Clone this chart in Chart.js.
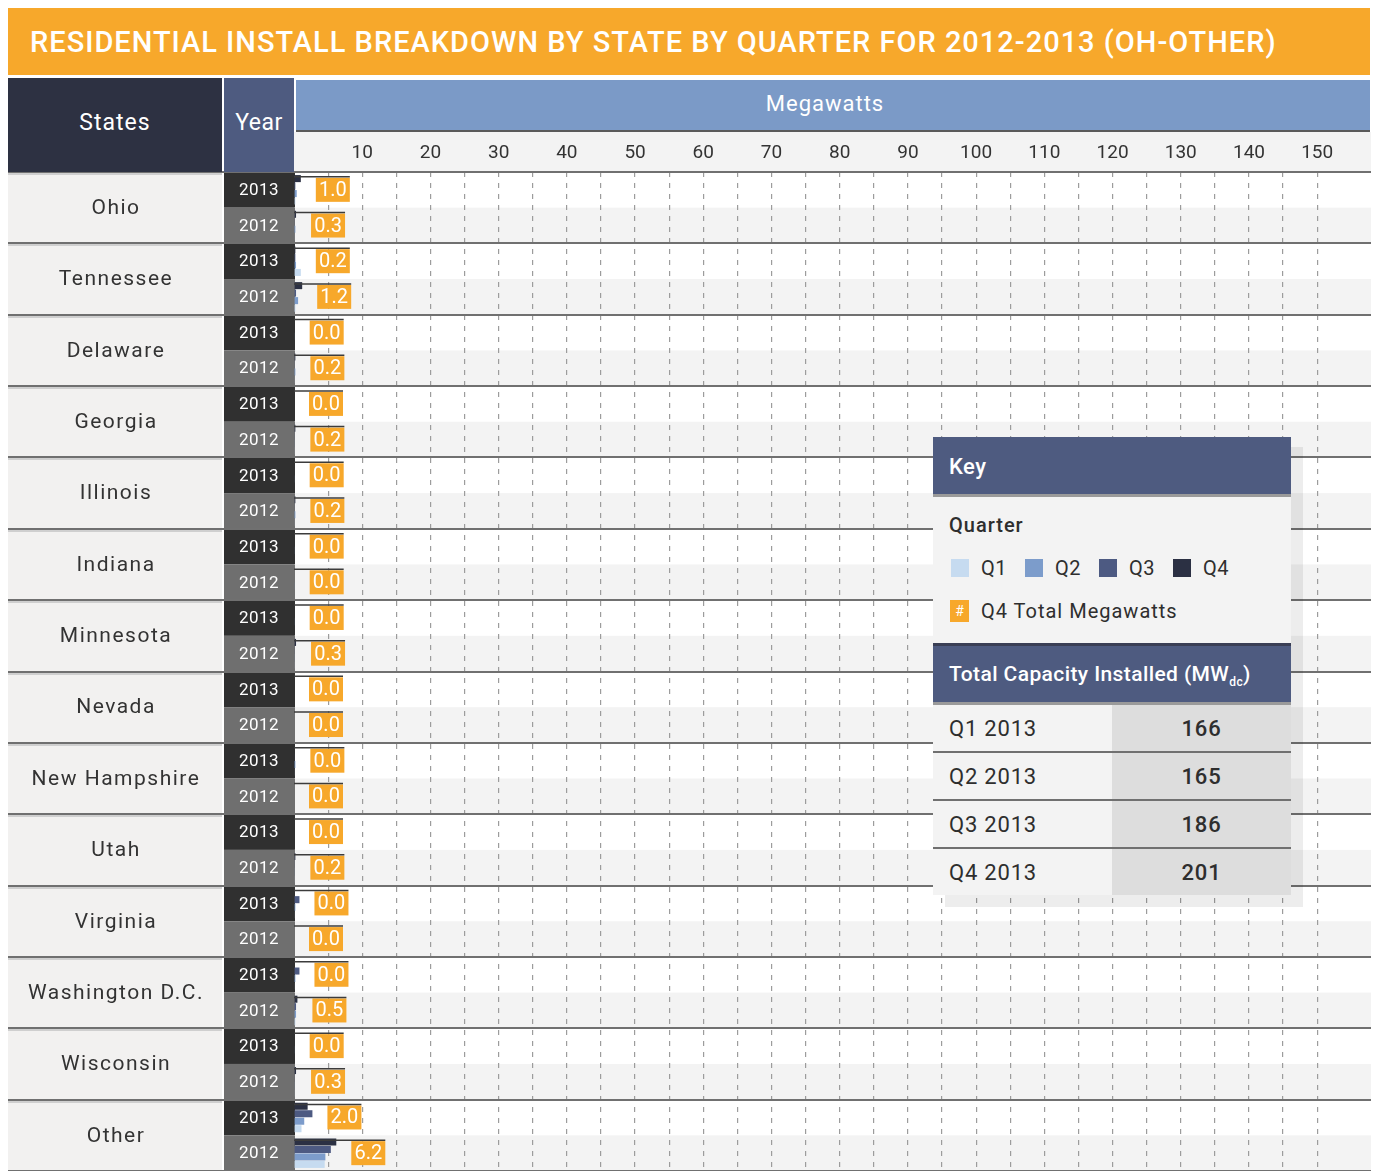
<!DOCTYPE html>
<html>
<head>
<meta charset="utf-8">
<script src="https://cdn.jsdelivr.net/npm/chart.js@4.4.1/dist/chart.umd.min.js"></script>
<style>
    body { margin: 0; background: #fff; font-family: Roboto, "Open Sans", sans-serif; }
    #wrap { position: relative; width: 1374px; height: 1171px; overflow: hidden; }
    #chart-box { position: absolute; left: 0; top: 0; width: 1374px; height: 1171px; }
    .abs { position: absolute; box-sizing: border-box; color: #fff; }
    .title { left: 8px; top: 8px; width: 1362px; height: 67px; background: #f7a82b;
             font-size: 29px; font-weight: 500; line-height: 69px; padding-left: 22px; letter-spacing: 1px; }
    .hdr-states { left: 8px; top: 78px; width: 214px; height: 94px; background: #2d3142;
                  font-size: 23px; text-align: center; line-height: 90px; letter-spacing: 1px; }
    .hdr-year { left: 224px; top: 78px; width: 70px; height: 94px; background: #4e5b80;
                font-size: 23px; text-align: center; line-height: 90px; letter-spacing: 0.5px; }
    .hdr-mw { left: 296px; top: 80px; width: 1074px; height: 50px; background: #7b9ac7;
              font-size: 22px; text-align: center; line-height: 48px; padding-right: 16px; letter-spacing: 1px; }

    /* Key panel */
    .key-shadow { left: 945px; top: 447px; width: 358px; height: 460px; background: rgba(0,0,0,0.07); }
    .key { left: 933px; top: 437px; width: 358px; height: 458px; background: #f3f3f3; color: #2e2e2e; }
    .key .head { background: #4e5b80; color: #fff; font-weight: 500; font-size: 22px; letter-spacing: 0.5px;
                 height: 60px; line-height: 60px; padding-left: 16px; border-bottom: 3px solid #9a9a9a; box-sizing: border-box; }
    .key .sub { font-size: 20px; font-weight: 500; padding: 16px 0 0 16px; height: 26px; letter-spacing: 1px; }
    .key .legend { display: flex; padding: 16px 0 0 18px; height: 26px; align-items: center; font-size: 20px; letter-spacing: 0.5px; }
    .key .legend span.sw { width: 18px; height: 18px; display: inline-block; margin-right: 12px; }
    .key .legend .item { display: flex; align-items: center; margin-right: 18px; }
    .key .orange { display: flex; align-items: center; padding: 18px 0 0 17px; font-size: 20px; letter-spacing: 1px; }
    .key .orange span.sw { width: 19px; height: 22px; background: #f7a82b; color: #fff; font-size: 14px;
                           text-align: center; line-height: 22px; margin-right: 12px; letter-spacing: 0; }
    .key .head2 { position: absolute; top: 206px; left: 0; width: 358px; height: 62px; background: #4e5b80;
                  color: #fff; font-size: 21px; font-weight: 500; line-height: 56px; padding-left: 16px; letter-spacing: 0.4px;
                  border-top: 3px solid #3a3f55; border-bottom: 3px solid #9a9a9a; box-sizing: border-box; }
    .key sub { font-size: 12px; }
    .key table { position: absolute; top: 268px; left: 0; width: 358px; border-collapse: collapse; font-size: 22px; letter-spacing: 0.8px; }
    .key td { height: 46px; padding: 0; }
    .key td.q { padding-left: 16px; width: 163px; background: #f3f3f3; }
    .key td.v { text-align: center; background: #dddddd; font-weight: 500; }
    .key tr + tr td { border-top: 2px solid #707070; }
</style>
</head>
<body>
<div id="wrap">
    <div id="chart-box"><canvas id="installChart"></canvas></div>
    <div class="abs title">RESIDENTIAL INSTALL BREAKDOWN BY STATE BY QUARTER FOR 2012-2013 (OH-OTHER)</div>
    <div class="abs hdr-states">States</div>
    <div class="abs hdr-year">Year</div>
    <div class="abs hdr-mw">Megawatts</div>
    <div class="abs key-shadow"></div>
    <div class="abs key" id="key">
        <div class="head">Key</div>
        <div class="sub">Quarter</div>
        <div class="legend" id="key-legend"></div>
        <div class="orange"><span class="sw">#</span>Q4 Total Megawatts</div>
        <div class="head2">Total Capacity Installed (MW<sub>dc</sub>)</div>
        <table id="capacity-table"></table>
    </div>
</div>

<script>
// ---- data (MW) ----
const states = ['Ohio', 'Tennessee', 'Delaware', 'Georgia', 'Illinois', 'Indiana', 'Minnesota',
    'Nevada', 'New Hampshire', 'Utah', 'Virginia', 'Washington D.C.', 'Wisconsin', 'Other'];
const years = ['2013', '2012'];

const q1_2013 = [0.2, 1.0, 0.0, 0.0, 0.0, 0.0, 0.0, 0.0, 0.1, 0.0, 0.1, 0.1, 0.0, 1.1];
const q2_2013 = [0.4, 0.3, 0.1, 0.0, 0.1, 0.1, 0.1, 0.0, 0.2, 0.0, 0.2, 0.2, 0.1, 1.5];
const q3_2013 = [0.2, 0.2, 0.0, 0.0, 0.0, 0.0, 0.0, 0.0, 0.1, 0.0, 0.8, 0.8, 0.0, 2.7];
const q4_2013 = [1.0, 0.2, 0.0, 0.0, 0.0, 0.0, 0.0, 0.0, 0.0, 0.0, 0.0, 0.0, 0.0, 2.0];

const q1_2012 = [0.1, 0.2, 0.1, 0.1, 0.1, 0.0, 0.1, 0.0, 0.0, 0.1, 0.0, 0.2, 0.1, 4.5];
const q2_2012 = [0.2, 0.6, 0.2, 0.1, 0.2, 0.1, 0.1, 0.0, 0.0, 0.1, 0.0, 0.3, 0.1, 4.6];
const q3_2012 = [0.1, 0.3, 0.1, 0.1, 0.1, 0.0, 0.1, 0.0, 0.0, 0.1, 0.0, 0.3, 0.1, 5.4];
const q4_2012 = [0.3, 1.2, 0.2, 0.2, 0.2, 0.0, 0.3, 0.0, 0.0, 0.2, 0.0, 0.5, 0.3, 6.2];

const quarterLabels = ['Q1', 'Q2', 'Q3', 'Q4'];
const quarterColors = ['#c6dbf0', '#7c9ccb', '#4d5a82', '#2b3043'];

const capacityQuarters = ['Q1 2013', 'Q2 2013', 'Q3 2013', 'Q4 2013'];
const capacityTotals = [166, 165, 186, 201];

const axisMax = 157.3;

// rows go state by state: 2013 then 2012
const rowLabels = [];
states.forEach(s => years.forEach(y => rowLabels.push(s + ' ' + y)));

function interleave(a2013, a2012) {
    const out = [];
    a2013.forEach((v, i) => { out.push(v); out.push(a2012[i]); });
    return out;
}
const quarterRows = [
    interleave(q1_2013, q1_2012),
    interleave(q2_2013, q2_2012),
    interleave(q3_2013, q3_2012),
    interleave(q4_2013, q4_2012)
];

// ---- key panel ----
document.getElementById('key-legend').innerHTML = quarterLabels.map((q, i) =>
    `<div class="item"><span class="sw" style="background:${quarterColors[i]}"></span>${q}</div>`).join('');
document.getElementById('capacity-table').innerHTML = capacityQuarters.map((q, i) =>
    `<tr><td class="q">${q}</td><td class="v">${capacityTotals[i]}</td></tr>`).join('');

// ---- table-style background, side columns and value tags ----
const tableLayout = {
    id: 'tableLayout',
    beforeDraw(chart) {
        const { ctx, chartArea: a, scales: { y } } = chart;
        const h = (a.bottom - a.top) / rowLabels.length;

        // tick label band
        ctx.fillStyle = '#f3f3f3';
        ctx.fillRect(a.left, 132, a.right - a.left + 4, a.top - 132);
        ctx.fillStyle = '#5a5a5a';
        ctx.fillRect(296, 130, 1074, 2);

        rowLabels.forEach((r, i) => {
            const top = y.getPixelForValue(i) - h / 2;
            ctx.fillStyle = i % 2 === 0 ? '#ffffff' : '#f3f3f3';
            ctx.fillRect(a.left, top, a.right - a.left + 4, h);

            ctx.fillStyle = i % 2 === 0 ? '#303030' : '#6f6f6f';
            ctx.fillRect(224, top, 71, h);
            ctx.fillStyle = '#ffffff';
            ctx.font = '17px Roboto';
            ctx.letterSpacing = '0.5px';
            ctx.textAlign = 'center';
            ctx.textBaseline = 'middle';
            ctx.fillText(years[i % 2], 259, top + h / 2 + 1);
        });

        states.forEach((s, k) => {
            const top = y.getPixelForValue(2 * k) - h / 2;
            ctx.fillStyle = '#f2f1f0';
            ctx.fillRect(8, top, 214, 2 * h);
            ctx.fillStyle = '#333333';
            ctx.font = '21px Roboto';
            ctx.letterSpacing = '1.5px';
            ctx.textAlign = 'center';
            ctx.textBaseline = 'middle';
            ctx.fillText(s, 116, top + h + 1);
        });
        ctx.letterSpacing = '0px';
    },
    afterDatasetsDraw(chart) {
        const { ctx, chartArea: a, scales: { x, y } } = chart;
        const h = (a.bottom - a.top) / rowLabels.length;

        // value tags (Q4 value), placed after the longest bar of the row
        rowLabels.forEach((r, i) => {
            const longest = Math.max(...quarterRows.map(q => q[i]));
            const left = x.getPixelForValue(longest) + 15;
            const yc = y.getPixelForValue(i);
            const tagTop = yc - 12;
            ctx.fillStyle = '#f7a82b';
            ctx.fillRect(left, tagTop, 34, 24);
            ctx.strokeStyle = '#3c3c3c';
            ctx.lineWidth = 1.5;
            ctx.beginPath();
            ctx.moveTo(a.left, tagTop - 1);
            ctx.lineTo(left + 34, tagTop - 1);
            ctx.stroke();
            ctx.fillStyle = '#ffffff';
            ctx.font = '20px Roboto';
            ctx.textAlign = 'center';
            ctx.textBaseline = 'middle';
            ctx.fillText(quarterRows[3][i].toFixed(1), left + 17, yc + 1);
        });

        // state separators
        for (let k = 0; k <= states.length; k++) {
            const yy = Math.round(a.top + 2 * k * h);
            ctx.fillStyle = '#707070';
            ctx.fillRect(8, yy - 1, a.right - 8 + 4, 2);
            ctx.fillStyle = '#cfcfcf';
            ctx.fillRect(8, yy + 1, 214, 2);
        }
    }
};

new Chart(document.getElementById('installChart'), {
    type: 'bar',
    data: {
        labels: rowLabels,
        // top-to-bottom inside each row: Q4, Q3, Q2, Q1
        datasets: [3, 2, 1, 0].map(q => ({
            label: quarterLabels[q],
            data: quarterRows[q],
            backgroundColor: quarterColors[q],
            borderWidth: 0,
            categoryPercentage: 0.84,
            barPercentage: 0.94
        }))
    },
    options: {
        indexAxis: 'y',
        responsive: true,
        maintainAspectRatio: false,
        animation: false,
        layout: { padding: { left: 294, right: 4, top: 133, bottom: 0 } },
        plugins: { legend: { display: false }, tooltip: { enabled: false } },
        scales: {
            x: {
                position: 'top',
                min: 0,
                max: axisMax,
                afterFit: axis => { axis.height = 39; },
                grid: {
                    drawTicks: false,
                    color: c => (c.tick && c.tick.value > 0 && c.tick.value % 5 === 0) ? '#9c9c9c' : 'transparent',
                    lineWidth: 1.2
                },
                border: { display: false, dash: [5, 6] },
                ticks: {
                    stepSize: 5,
                    padding: 7,
                    autoSkip: false,
                    minRotation: 0,
                    maxRotation: 0,
                    color: '#333333',
                    font: { family: 'Roboto', size: 19 },
                    callback: v => (v > 0 && v % 10 === 0) ? v : ''
                }
            },
            y: { display: false }
        }
    },
    plugins: [tableLayout]
});
</script>
</body>
</html>
